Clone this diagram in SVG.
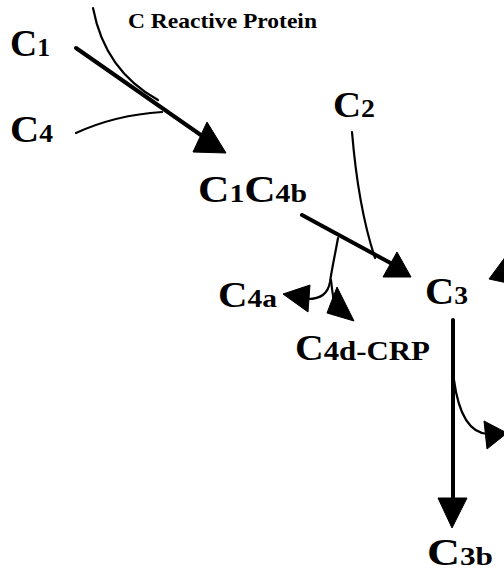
<svg xmlns="http://www.w3.org/2000/svg" width="504" height="575" viewBox="0 0 504 575">
<style>
text{font-family:"Liberation Serif","Times New Roman",serif;font-weight:bold;fill:#000}
.big{font-size:38px}
.sub{font-size:26px}
.thick{fill:none;stroke:#000;stroke-width:4;stroke-linecap:round}
.thin{fill:none;stroke:#000;stroke-width:2.2;stroke-linecap:round}
.head{fill:#000;stroke:#000;stroke-width:1;stroke-linejoin:round}
</style>
<rect width="504" height="575" fill="#fff"/>
<g id="crp"><text x="128" y="28" font-size="22" textLength="189" lengthAdjust="spacingAndGlyphs">C Reactive Protein</text></g>
<g id="c1"><text x="10" y="56" textLength="40" lengthAdjust="spacingAndGlyphs"><tspan class="big">C</tspan><tspan class="sub">1</tspan></text></g>
<g id="c4"><text x="10" y="142" textLength="43" lengthAdjust="spacingAndGlyphs"><tspan class="big">C</tspan><tspan class="sub">4</tspan></text></g>
<g id="c2"><text x="333" y="117" textLength="42" lengthAdjust="spacingAndGlyphs"><tspan font-size="35">C</tspan><tspan font-size="25">2</tspan></text></g>
<g id="c1c4b"><text x="198" y="202" textLength="109" lengthAdjust="spacingAndGlyphs"><tspan class="big">C</tspan><tspan class="sub">1</tspan><tspan class="big">C</tspan><tspan class="sub">4b</tspan></text></g>
<g id="c4a"><text x="218" y="307" textLength="59" lengthAdjust="spacingAndGlyphs"><tspan font-size="36">C</tspan><tspan font-size="26">4a</tspan></text></g>
<g id="c3"><text x="425" y="304" textLength="43" lengthAdjust="spacingAndGlyphs"><tspan class="big">C</tspan><tspan class="sub">3</tspan></text></g>
<g id="c4dcrp"><text x="295" y="360" textLength="135" lengthAdjust="spacingAndGlyphs"><tspan font-size="36">C</tspan><tspan font-size="28">4d-CRP</tspan></text></g>
<g id="c3b"><text x="427" y="565" textLength="66" lengthAdjust="spacingAndGlyphs"><tspan class="big">C</tspan><tspan class="sub">3b</tspan></text></g>
<g id="connectors">
<path class="thick" d="M76,48 L208,140"/>
<polygon class="head" points="207,122 193,152 226,153"/>
<path class="thin" d="M93,8 C100,45 118,78 158,100"/>
<path class="thin" d="M76,133 C100,122 130,114 162,112"/>
<path class="thin" d="M352,132 C356,180 364,225 375,258"/>
<path class="thick" d="M302,215 L396,266"/>
<polygon class="head" points="383,277 397,252 411,277"/>
<path class="thin" stroke-width="3" d="M338,238 C335,255 332,268 330,282 C328,294 320,299 308,299"/>
<polygon class="head" points="283,294 310,285 308,312"/>
<path class="thin" stroke-width="3" d="M331,280 C332,290 333,296 334,302"/>
<polygon class="head" points="337,287 327,313 354,321"/>
<polygon class="head" points="489,279 506,256 512,284"/>
<path class="thick" stroke-width="3.5" d="M453,320 L453,505"/>
<polygon class="head" points="438,498 467,498 452,528"/>
<path class="thin" stroke-width="2.8" d="M454,380 C458,410 468,433 488,434"/>
<polygon class="head" points="484,421 507,433 487,449"/>
</g>
</svg>
